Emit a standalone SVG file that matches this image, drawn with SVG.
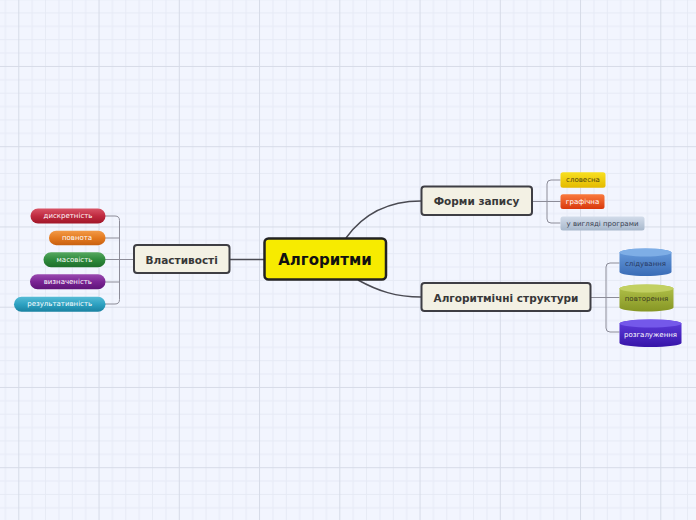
<svg xmlns="http://www.w3.org/2000/svg" width="696" height="520" viewBox="0 0 696 520">
<defs>
<pattern id="grid" patternUnits="userSpaceOnUse" x="18.3" y="-14.3" width="80.25" height="80.25">
<g stroke="#e6eaf5" stroke-width="1">
<line x1="13.875" y1="0" x2="13.875" y2="80.25"/><line x1="27.25" y1="0" x2="27.25" y2="80.25"/><line x1="40.625" y1="0" x2="40.625" y2="80.25"/><line x1="54" y1="0" x2="54" y2="80.25"/><line x1="67.375" y1="0" x2="67.375" y2="80.25"/>
<line y1="13.875" x1="0" y2="13.875" x2="80.25"/><line y1="27.25" x1="0" y2="27.25" x2="80.25"/><line y1="40.625" x1="0" y2="40.625" x2="80.25"/><line y1="54" x1="0" y2="54" x2="80.25"/><line y1="67.375" x1="0" y2="67.375" x2="80.25"/>
</g>
<g stroke="#d6dbe7" stroke-width="1">
<line x1="0.5" y1="0" x2="0.5" y2="80.25"/><line y1="0.5" x1="0" y2="0.5" x2="80.25"/>
</g>
</pattern>
<linearGradient id="gRed" x1="0" y1="0" x2="0" y2="1"><stop offset="0" stop-color="#d85466"/><stop offset="0.5" stop-color="#c02a40"/><stop offset="1" stop-color="#a01628"/></linearGradient>
<linearGradient id="gOrange" x1="0" y1="0" x2="0" y2="1"><stop offset="0" stop-color="#f29a48"/><stop offset="0.5" stop-color="#e47a20"/><stop offset="1" stop-color="#c86010"/></linearGradient>
<linearGradient id="gGreen" x1="0" y1="0" x2="0" y2="1"><stop offset="0" stop-color="#56a860"/><stop offset="0.5" stop-color="#2e8a3c"/><stop offset="1" stop-color="#1e6e2a"/></linearGradient>
<linearGradient id="gPurple" x1="0" y1="0" x2="0" y2="1"><stop offset="0" stop-color="#9a4ab0"/><stop offset="0.5" stop-color="#7a2494"/><stop offset="1" stop-color="#5e1478"/></linearGradient>
<linearGradient id="gTeal" x1="0" y1="0" x2="0" y2="1"><stop offset="0" stop-color="#56bcd6"/><stop offset="0.5" stop-color="#2ea2c2"/><stop offset="1" stop-color="#1a82a2"/></linearGradient>
<linearGradient id="gYellow" x1="0" y1="0" x2="0" y2="1"><stop offset="0" stop-color="#f8e020"/><stop offset="1" stop-color="#e4ba00"/></linearGradient>
<linearGradient id="gFire" x1="0" y1="0" x2="0" y2="1"><stop offset="0" stop-color="#fa7a3e"/><stop offset="1" stop-color="#d8380c"/></linearGradient>
<linearGradient id="gSteel" x1="0" y1="0" x2="0" y2="1"><stop offset="0" stop-color="#d2dcea"/><stop offset="1" stop-color="#a8b8cc"/></linearGradient>
<linearGradient id="gBlueC" x1="0" y1="0" x2="0" y2="1"><stop offset="0" stop-color="#6a9ede"/><stop offset="1" stop-color="#3a6cb6"/></linearGradient>
<linearGradient id="gOliveC" x1="0" y1="0" x2="0" y2="1"><stop offset="0" stop-color="#b4c44c"/><stop offset="1" stop-color="#869624"/></linearGradient>
<linearGradient id="gVioletC" x1="0" y1="0" x2="0" y2="1"><stop offset="0" stop-color="#6240e0"/><stop offset="1" stop-color="#3614a8"/></linearGradient>
</defs>
<style>
text{font-family:"DejaVu Sans","Liberation Sans",sans-serif;text-anchor:middle;dominant-baseline:central}
.main{stroke:#222;stroke-width:2.5;fill:#f7eb00}
.topic{stroke:#3e3e44;stroke-width:2;fill:#f3f1e4}
.tt{font-size:10.5px;font-weight:bold;fill:#383838}
.sm{font-size:7px}
.w{fill:#ffffff}
.conn{fill:none;stroke:#4a4a52;stroke-width:1.5}
.br{fill:none;stroke:#8c8c98;stroke-width:1}
</style>
<rect width="696" height="520" fill="#f2f5fe"/>
<rect width="696" height="520" fill="url(#grid)"/>
<g id="connectors">
<path class="conn" d="M346,238 C364,213 390,201 421,201"/>
<path class="conn" d="M358,280 C378,291 396,297 421,297"/>
<path class="conn" d="M264,259.5 H230"/>
<path class="br" d="M133,259.5 H105"/>
<path class="br" d="M105,216 H115 Q119.5,216 119.5,220.5 V299.5 Q119.5,304 115,304 H105"/>
<path class="br" d="M105,238 H119.5 M105,282 H119.5"/>
<path class="br" d="M532,201.5 H560.5"/>
<path class="br" d="M560.5,180 H551 Q547,180 547,184 V219 Q547,223 551,223 H560.5"/>
<path class="br" d="M591,297.5 H619.5"/>
<path class="br" d="M619.5,263 H610 Q606,263 606,267 V328 Q606,332 610,332 H619.5"/>
</g>
<g id="node-central">
<rect class="main" x="264.5" y="238.5" width="121.5" height="41" rx="4"/>
<text x="325" y="259.5" font-size="15" font-weight="bold" fill="#111">Алгоритми</text>
</g>
<g id="node-formy">
<rect class="topic" x="421.5" y="186.5" width="110.5" height="28.5" rx="3"/>
<text class="tt" x="476.5" y="201">Форми запису</text>
</g>
<g id="node-struktury">
<rect class="topic" x="421.5" y="283" width="169" height="28" rx="3"/>
<text class="tt" x="506" y="297.5">Алгоритмічні структури</text>
</g>
<g id="node-vlastyvosti">
<rect class="topic" x="134" y="245" width="95.5" height="28" rx="3"/>
<text class="tt" x="181.7" y="259.5">Властивості</text>
</g>
<g id="node-dyskretnist">
<rect x="30.5" y="208.5" width="75" height="15" rx="7.5" fill="url(#gRed)"/>
<text class="sm w" x="68" y="216.2">дискретність</text>
</g>
<g id="node-povnota">
<rect x="49" y="230.7" width="56.5" height="14.5" rx="7.25" fill="url(#gOrange)"/>
<text class="sm w" x="77" y="238.2">повнота</text>
</g>
<g id="node-masovist">
<rect x="43.5" y="252.3" width="62" height="15" rx="7.5" fill="url(#gGreen)"/>
<text class="sm w" x="74.5" y="260">масовість</text>
</g>
<g id="node-vyznachenist">
<rect x="30" y="274.3" width="75.5" height="15" rx="7.5" fill="url(#gPurple)"/>
<text class="sm w" x="67.8" y="282">визначеність</text>
</g>
<g id="node-rezultatyvnist">
<rect x="14" y="296.7" width="91.5" height="15" rx="7.5" fill="url(#gTeal)"/>
<text class="sm w" x="59.7" y="304.3">результативність</text>
</g>
<g id="node-slovesna">
<rect x="560.5" y="172.3" width="45" height="15.4" rx="2.5" fill="url(#gYellow)"/>
<text class="sm" x="583" y="180.2" fill="#4a4010">словесна</text>
</g>
<g id="node-grafichna">
<rect x="560.5" y="194.3" width="44" height="14.8" rx="2.5" fill="url(#gFire)"/>
<text class="sm w" x="582.5" y="201.9">графічна</text>
</g>
<g id="node-prohramy">
<rect x="560.5" y="216.5" width="84" height="14" rx="2.5" fill="url(#gSteel)"/>
<text class="sm" x="602.5" y="223.8" fill="#3a4252">у вигляді програми</text>
</g>
<g id="node-sliduvannia">
<path d="M619.5,252.5 V272 A26,4 0 0 0 671.5,272 V252.5 A26,4 0 0 0 619.5,252.5 Z" fill="url(#gBlueC)"/>
<ellipse cx="645.5" cy="252.5" rx="26" ry="4" fill="#7eaee6"/>
<text class="sm" x="645.5" y="263.5" fill="#28385e">слідування</text>
</g>
<g id="node-povtorennia">
<path d="M619.5,288.5 V307.5 A27,4 0 0 0 673.5,307.5 V288.5 A27,4 0 0 0 619.5,288.5 Z" fill="url(#gOliveC)"/>
<ellipse cx="646.5" cy="288.5" rx="27" ry="4" fill="#c2d062"/>
<text class="sm" x="646.5" y="298.5" fill="#3a3a20">повторення</text>
</g>
<g id="node-rozgaluzhennia">
<path d="M619.5,323.5 V343 A31,4 0 0 0 681.5,343 V323.5 A31,4 0 0 0 619.5,323.5 Z" fill="url(#gVioletC)"/>
<ellipse cx="650.5" cy="323.5" rx="31" ry="4" fill="#7458ea"/>
<text class="sm w" x="650.5" y="334.5">розгалуження</text>
</g>
</svg>
